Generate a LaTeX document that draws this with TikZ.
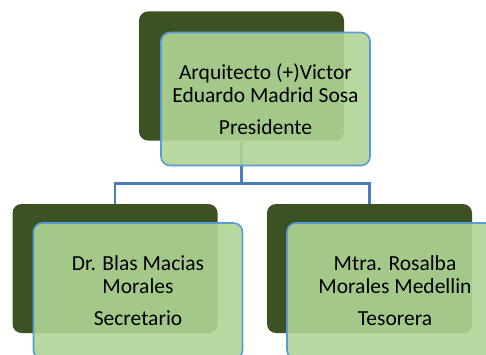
\documentclass[tikz,border=0pt]{standalone}
\usepackage{fontspec}
\setmainfont{Carlito}
\usetikzlibrary{positioning}

\definecolor{darkolive}{HTML}{3B5323}
\definecolor{leafgreen}{HTML}{AFD595}
\definecolor{edgeblue}{HTML}{5B9BD5}
\definecolor{linkblue}{HTML}{4A7EB5}

\begin{document}
\begin{tikzpicture}[x=1pt, y=1pt,
  backbox/.style = {shape=rectangle, rounded corners=9pt,
    fill=darkolive, minimum width=205pt, minimum height=129pt, inner sep=0pt},
  frontbox/.style = {shape=rectangle, rounded corners=9pt,
    draw=edgeblue, line width=1.6pt, fill=leafgreen, fill opacity=0.9,
    text opacity=1, align=center, font=\fontsize{21.5}{23}\selectfont,
    minimum width=209pt, minimum height=133pt, inner sep=0pt},
  link/.style = {draw=linkblue, line width=2.6pt}]
  \useasboundingbox (0,0) rectangle (486,354);
  \clip (0,0) rectangle (486,354);
  % dark shadow boxes
  \node[backbox] (presBack) at (241.5,278) {};
  \node[backbox] (secBack) at (115,85.5) {};
  \node[backbox] (tesBack) at (369.5,85.5) {};
  % connectors
  \draw[link] (presBack.south) -- ++(0,-42.5) -| (secBack.north);
  \draw[link] (presBack.south) -- ++(0,-42.5) -| (tesBack.north);
  % front boxes
  \node[frontbox] (pres) at (265.5,255)
    {Arquitecto (+)Victor\\Eduardo Madrid Sosa\\[9pt]Presidente};
  \node[frontbox, minimum height=136pt] (sec) at (138,63)
    {Dr. Blas Macias\\Morales\\[9pt]Secretario};
  \node[frontbox, minimum height=136pt, minimum width=216pt] (tes) at (395,63)
    {Mtra. Rosalba\\Morales Medellin\\[9pt]Tesorera};
\end{tikzpicture}
\end{document}
